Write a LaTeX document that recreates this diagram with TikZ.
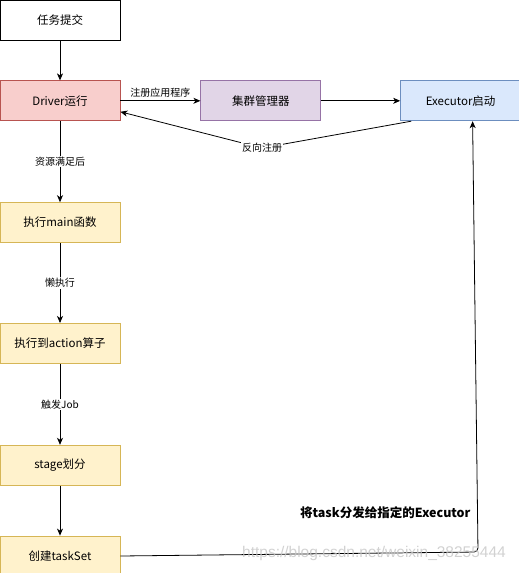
\documentclass[tikz,border=0pt]{standalone}
\usepackage{fontspec}
\setmainfont{Noto Sans CJK SC}
\newfontfamily\wmfont{Liberation Sans}
\usepackage{tikz}
\usepackage{xcolor}
\usetikzlibrary{positioning,arrows.meta}
\definecolor{redfill}{HTML}{F8CECC}
\definecolor{redline}{HTML}{B85450}
\definecolor{purplefill}{HTML}{E1D5E7}
\definecolor{purpleline}{HTML}{9673A6}
\definecolor{bluefill}{HTML}{DAE8FC}
\definecolor{blueline}{HTML}{6C8EBF}
\definecolor{yellowfill}{HTML}{FFF2CC}
\definecolor{yellowline}{HTML}{D6B656}
\tikzset{
    flow-box/.style = {draw, fill=white, rectangle, line width=0.8pt, minimum width=120pt, minimum height=40pt, inner sep=2pt, font=\fontsize{11.5}{13}\selectfont},
    red-box/.style = {flow-box, draw=redline, fill=redfill},
    purple-box/.style = {flow-box, draw=purpleline, fill=purplefill},
    blue-box/.style = {flow-box, draw=blueline, fill=bluefill},
    yellow-box/.style = {flow-box, draw=yellowline, fill=yellowfill},
    flow-arrow/.style = {-{Stealth[length=7pt,width=6pt,inset=2pt]}, line width=0.8pt},
    edge-label/.style = {fill=white, inner sep=1pt, font=\fontsize{10}{12}\selectfont},
}

\begin{document}
\begin{tikzpicture}[x=1pt, y=1pt]
\useasboundingbox (0,0) rectangle (519,-573);
\node[flow-box] (submit) at (60,-20) {任务提交};
\node[red-box, below=40pt of submit] (driver) {Driver运行};
\node[purple-box, right=80pt of driver] (cluster) {集群管理器};
\node[blue-box, right=79pt of cluster] (executor) {Executor启动};
\node[yellow-box, below=81pt of driver] (mainfn) {执行main函数};
\node[yellow-box, below=80pt of mainfn] (action) {执行到action算子};
\node[yellow-box, below=81pt of action] (stage) {stage划分};
\node[yellow-box, below=50pt of stage] (taskset) {创建taskSet};

\coordinate (regbend) at (262,-148);
\coordinate (dispatch) at (478,-552);

\draw[flow-arrow] (submit) -- (driver);
\draw[flow-arrow] (driver) -- node[edge-label, above=2pt, fill=none] {注册应用程序} (cluster);
\draw[flow-arrow] (cluster) -- (executor);
\draw[flow-arrow] ([xshift=11pt]executor.south west) -- (regbend) node[edge-label] {反向注册} -- ([yshift=-11pt]driver.east);
\draw[flow-arrow] (driver) -- node[edge-label] {资源满足后} (mainfn);
\draw[flow-arrow] (mainfn) -- node[edge-label] {懒执行} (action);
\draw[flow-arrow] (action) -- node[edge-label] {触发Job} (stage);
\draw[flow-arrow] (stage) -- (taskset);
\draw[flow-arrow, rounded corners=4pt] (taskset.east) -- (dispatch) -- ([xshift=12pt]executor.south);

\node[font=\fontsize{12.5}{14}\selectfont\bfseries, anchor=east] (dispatchlabel) at (474,-513) {将task分发给指定的Executor};
\node[font=\wmfont\fontsize{15.5}{17}\selectfont, text=gray!45, opacity=0.8] (watermark) at (374,-553) {https://blog.csdn.net/weixin\_38255444};
\end{tikzpicture}
\end{document}
